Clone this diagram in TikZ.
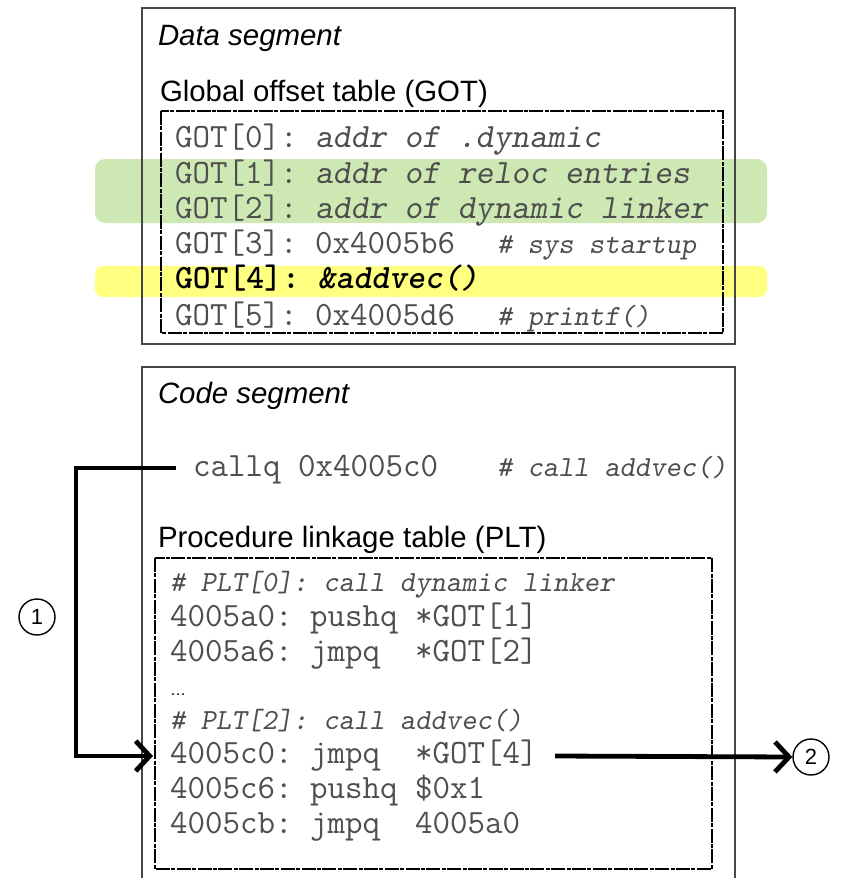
\documentclass[tikz,border=0pt]{standalone}
\usepackage{fontspec}
\setmainfont{Liberation Sans}
\setsansfont{Liberation Sans}
\usetikzlibrary{arrows.meta}
\frenchspacing

\definecolor{codegray}{RGB}{78,78,78}
\definecolor{hlgreen}{RGB}{205,232,178}
\definecolor{hlyellow}{RGB}{255,255,128}
\definecolor{boxgray}{RGB}{70,70,70}

% typewriter text stays in Latin Modern Mono (slab-serif, Courier-like)
\newcommand\codefont{\fontsize{17}{20}\selectfont\ttfamily}
\newcommand\cmtfont{\fontsize{14.6}{17}\selectfont\ttfamily\slshape}
\newcommand\headfont{\fontsize{14.7}{18}\selectfont\sffamily}
\newcommand\slant[1]{{\slshape #1}}

\begin{document}
\begin{tikzpicture}[x=0.5pt,y=-0.5pt,
  txt/.style={anchor=base west, inner sep=0pt, outer sep=0pt},
  code/.style={txt, text=codegray, font=\codefont},
  cmt/.style={txt, text=codegray, font=\cmtfont},
  head/.style={txt, text=black, font=\headfont},
  segbox/.style={draw=boxgray, line width=0.75pt},
  tablebox/.style={draw=black, line width=1pt, dash pattern=on 7pt off 0.7pt on 2pt off 0.7pt},
  conn/.style={draw=black, line width=2.4pt, -{Straight Barb[length=7pt,width=15pt]}},
  numlabel/.style={circle, draw=black, line width=0.7pt, minimum size=18pt, inner sep=0pt, font=\fontsize{11}{13}\selectfont\sffamily}
]
\useasboundingbox (0,0) rectangle (841,878);

% highlighted GOT entries
\fill[hlgreen, rounded corners=5pt] (95,159) rectangle (767,223);
\fill[hlyellow, rounded corners=4pt] (95,266) rectangle (767,297);

% data segment with the GOT
\draw[segbox] (142,8) rectangle (735,344);
\draw[tablebox] (161,111) rectangle (723,333);
\node[head, font=\headfont\itshape] (dataseg) at (158,46) {Data segment};
\node[head] (gottitle) at (160,101) {Global offset table (GOT)};

\node[code] (got0) at (175,147) {GOT[0]: \slant{addr of .dynamic}};
\node[code] (got1) at (175,183) {GOT[1]: \slant{addr of reloc entries}};
\node[code] (got2) at (175,218) {GOT[2]: \slant{addr of dynamic linker}};
\node[code] (got3) at (175,253) {GOT[3]: 0x4005b6};
\node[cmt]  (got3c) at (497,253) {\# sys startup};
\node[txt, text=black, font=\codefont\bfseries] (got4) at (175,288) {GOT[4]: \slant{\&addvec()}};
\node[code] (got5) at (175,325) {GOT[5]: 0x4005d6};
\node[cmt]  (got5c) at (497,325) {\# printf()};

% code segment with the PLT
\draw[segbox] (142,900) -- (142,367) -- (735,367) -- (735,900);
\node[head, font=\headfont\itshape] (codeseg) at (158,403) {Code segment};
\node[code] (callq) at (193,476) {callq 0x4005c0};
\node[cmt]  (callqc) at (497,476) {\# call addvec()};
\node[head] (plttitle) at (158,547) {Procedure linkage table (PLT)};
\draw[tablebox] (155,558) rectangle (712,869);

\node[cmt]  (plt0c) at (170,591) {\# PLT[0]: call dynamic linker};
\node[code] (plta0) at (170,626) {4005a0: pushq *GOT[1]};
\node[code] (plta6) at (170,661) {4005a6: jmpq\ \ *GOT[2]};
\node[txt, text=black, font=\fontsize{8}{9}\selectfont] (pltdots) at (170,695) {…};
\node[cmt]  (plt2c) at (170,729) {\# PLT[2]: call addvec()};
\node[code] (pltc0) at (170,763) {4005c0: jmpq\ \ *GOT[4]};
\node[code] (pltc6) at (170,798) {4005c6: pushq \$0x1};
\node[code] (pltcb) at (170,833) {4005cb: jmpq\ \ 4005a0};

% step markers
\node[numlabel] (n1) at (37,617) {1};
\node[numlabel] (n2) at (811,757) {2};

% control flow
\coordinate (callout) at (176,468);
\coordinate (bend) at (76,468);
\coordinate (pltin) at (153,756);
\coordinate (jmpout) at (555,756);
\draw[conn] (callout) -- (bend) |- (pltin);
\draw[conn] (jmpout) -- (n2.west);
\end{tikzpicture}
\end{document}
